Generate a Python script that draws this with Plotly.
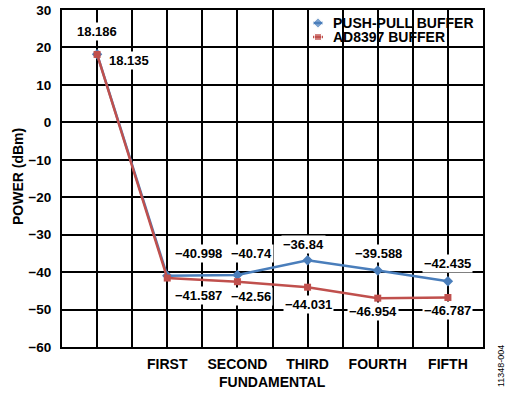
import plotly.graph_objects as go

categories = ["", "FIRST", "SECOND", "THIRD", "FOURTH", "FIFTH"]
push_pull = [18.186, -40.998, -40.74, -36.84, -39.588, -42.435]
ad8397 = [18.135, -41.587, -42.56, -44.031, -46.954, -46.787]
y_ticks = [30, 20, 10, 0, -10, -20, -30, -40, -50, -60]
series_names = ["PUSH-PULL BUFFER", "AD8397 BUFFER"]

BLUE = "#4a7ebb"
RED = "#c0504d"
FONT = "Liberation Sans, Arial, sans-serif"
BOLD = dict(family=FONT, color="black", weight="bold")

W, H = 508, 395
L, R, T, B = 62, 25, 10, 48
PW, PH = W - L - R, H - T - B

def px_x(p):
    return (p - L) / PW

def px_y(p):
    return 1 - (p - T) / PH

xpos = [2 * i + 1 for i in range(len(categories))]

fig = go.Figure()
fig.add_trace(go.Scatter(x=xpos, y=push_pull, mode="lines+markers", name=series_names[0],
                         line=dict(color=BLUE, width=2.5),
                         marker=dict(symbol="diamond", size=8, color=BLUE), showlegend=False))
fig.add_trace(go.Scatter(x=xpos, y=ad8397, mode="lines+markers", name=series_names[1],
                         line=dict(color=RED, width=2.5),
                         marker=dict(symbol="square", size=7, color=RED), showlegend=False))

def fmt(v):
    return ("%g" % v).replace("-", "\u2212")

pp_off = [(0, -23), (31, -22), (14, -21), (-4, -16), (1, -17), (0, -18)]
ad_off = [(32, 6), (31, 17), (14, 15), (1, 17), (-5, 13), (0, 13)]
for vals, offs in ((push_pull, pp_off), (ad8397, ad_off)):
    for x, v, (ax, ay) in zip(xpos, vals, offs):
        fig.add_annotation(x=x, y=v, text=fmt(v), showarrow=True, arrowcolor="rgba(0,0,0,0)",
                           ax=ax, ay=ay, bgcolor="white", borderpad=1,
                           font=dict(BOLD, size=13))

# manual legend
fig.add_shape(type="rect", xref="paper", yref="paper", x0=px_x(310), x1=1, y0=px_y(47), y1=1,
              fillcolor="white", line=dict(width=0), layer="between")
leg_rows = [23, 37]
leg_cols = [BLUE, RED]
leg_sym = ["diamond", "square"]
for i, name in enumerate(series_names):
    yy = px_y(leg_rows[i])
    fig.add_trace(go.Scatter(x=[px_x(313), px_x(318), px_x(323)], y=[yy, yy, yy],
                             xaxis="x2", yaxis="y2", mode="lines+markers", showlegend=False,
                             hoverinfo="skip", line=dict(color=leg_cols[i], width=2.5),
                             marker=dict(symbol=leg_sym[i], size=[0, 8 if i == 0 else 7, 0],
                                         color=leg_cols[i])))
    fig.add_annotation(xref="paper", yref="paper", x=px_x(331), y=yy, text=name, showarrow=False,
                       xanchor="left", yanchor="middle", font=dict(BOLD, size=14))

# axis titles
fig.add_annotation(xref="paper", yref="paper", x=px_x(272), y=px_y(382),
                   text="FUNDAMENTAL", showarrow=False, xanchor="center", yanchor="middle",
                   font=dict(BOLD, size=14))
fig.add_annotation(xref="paper", yref="paper", x=px_x(18), y=px_y(177), text="POWER (dBm)",
                   showarrow=False, textangle=-90, xanchor="center", yanchor="middle",
                   font=dict(BOLD, size=14))
fig.add_annotation(xref="paper", yref="paper", x=px_x(501), y=px_y(366), text="11348-004",
                   showarrow=False, textangle=-90, xanchor="center", yanchor="middle",
                   font=dict(family=FONT, size=9, color="black"))

tickvals = list(range(0, 13))
label_map = dict(zip(xpos, categories))
ticktext = [label_map.get(t, "") for t in tickvals]

fig.update_layout(
    width=W, height=H,
    margin=dict(l=L, r=R, t=T, b=B, autoexpand=False),
    paper_bgcolor="white", plot_bgcolor="white",
    font=dict(family=FONT, size=13, color="black"),
    showlegend=False,
    xaxis=dict(range=[0, 12], tickvals=tickvals, ticktext=ticktext, showgrid=True,
               gridcolor="black", gridwidth=1.5, showline=True, linecolor="black", linewidth=2,
               mirror=True, ticks="", zeroline=False, automargin=False, ticklabelstandoff=3,
               tickfont=dict(BOLD, size=14)),
    yaxis=dict(range=[-60, 30], tickvals=y_ticks, ticktext=[fmt(t) for t in y_ticks],
               showgrid=True, gridcolor="black", gridwidth=1.5, showline=True, linecolor="black",
               linewidth=2, mirror=True, ticks="", zeroline=False, automargin=False,
               ticklabelstandoff=6, tickfont=dict(BOLD, size=13.5)),
    xaxis2=dict(overlaying="x", range=[0, 1], visible=False, anchor="y2"),
    yaxis2=dict(overlaying="y", range=[0, 1], visible=False, anchor="x2"),
)

fig.write_html("out.html", config={"displayModeBar": False},
               post_script="document.body.style.margin='0px';")
